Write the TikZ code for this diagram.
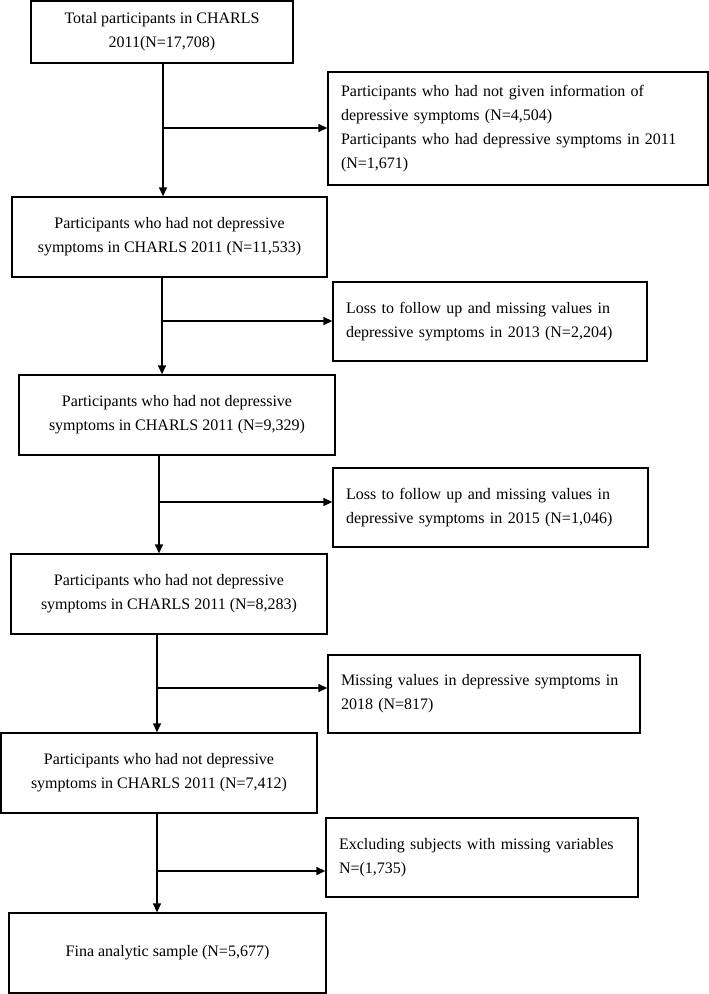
\documentclass[tikz,border=0pt]{standalone}
\usepackage{fontspec}
\setmainfont{Liberation Serif}
\usepackage{tikz}
\usetikzlibrary{arrows.meta}
\tikzstyle{arrow} = [line width=1.3pt,-{Triangle[length=9pt,width=8pt]}]
\tikzstyle{mainbox} = [rectangle, draw, line width=1.3pt, align=center, inner sep=0pt, font=\fontsize{16}{24}\selectfont]
\tikzstyle{sidebox} = [rectangle, draw, line width=1.3pt, align=left, inner xsep=13pt, inner ysep=0pt, font=\fontsize{16}{24}\selectfont]

\begin{document}
\begin{tikzpicture}[x=1pt,y=-1pt]
\useasboundingbox (0,0) rectangle (709,994);

% Main boxes
\node (total) [mainbox, minimum width=262pt, minimum height=62pt] at (162,32) {Total participants in CHARLS\\2011(N=17,708)};
\node (wave1) [mainbox, minimum width=315pt, minimum height=80pt] at (169.5,237) {Participants who had not depressive\\symptoms in CHARLS 2011 (N=11,533)};
\node (wave2) [mainbox, minimum width=316pt, minimum height=80pt] at (177,415) {Participants who had not depressive\\symptoms in CHARLS 2011 (N=9,329)};
\node (wave3) [mainbox, minimum width=316pt, minimum height=80pt] at (169,594) {Participants who had not depressive\\symptoms in CHARLS 2011 (N=8,283)};
\node (wave4) [mainbox, minimum width=316pt, minimum height=80pt] at (159,773) {Participants who had not depressive\\symptoms in CHARLS 2011 (N=7,412)};
\node (final) [mainbox, minimum width=317pt, minimum height=80pt] at (167.5,953) {Fina analytic sample (N=5,677)};

% Exclusion boxes
\node (excl1) [sidebox, text width=354pt, minimum height=113pt] at (518,128.5) {Participants who had not given information of\\depressive symptoms (N=4,504)\\Participants who had depressive symptoms in 2011\\(N=1,671)};
\node (excl2) [sidebox, text width=288pt, minimum height=79pt] at (490,321.5) {Loss to follow up and missing values in\\depressive symptoms in 2013 (N=2,204)};
\node (excl3) [sidebox, text width=289pt, minimum height=79pt] at (490.5,507.5) {Loss to follow up and missing values in\\depressive symptoms in 2015 (N=1,046)};
\node (excl4) [sidebox, text width=286pt, minimum height=78pt] at (484,694) {Missing values in depressive symptoms in\\2018 (N=817)};
\node (excl5) [sidebox, text width=286pt, minimum height=79pt] at (482,857.5) {Excluding subjects with missing variables\\N=(1,735)};

% Branch points
\coordinate (j1) at (163,128);
\coordinate (j2) at (162,321);
\coordinate (j3) at (159,502);
\coordinate (j4) at (157,688);
\coordinate (j5) at (157,871);

% Arrows
\draw[arrow] (total.south -| j1) -- (wave1.north -| j1);
\draw[arrow] (j1) -- (j1 -| excl1.west);
\draw[arrow] (wave1.south -| j2) -- (wave2.north -| j2);
\draw[arrow] (j2) -- (j2 -| excl2.west);
\draw[arrow] (wave2.south -| j3) -- (wave3.north -| j3);
\draw[arrow] (j3) -- (j3 -| excl3.west);
\draw[arrow] (wave3.south -| j4) -- (wave4.north -| j4);
\draw[arrow] (j4) -- (j4 -| excl4.west);
\draw[arrow] (wave4.south -| j5) -- (final.north -| j5);
\draw[arrow] (j5) -- (j5 -| excl5.west);
\end{tikzpicture}
\end{document}
